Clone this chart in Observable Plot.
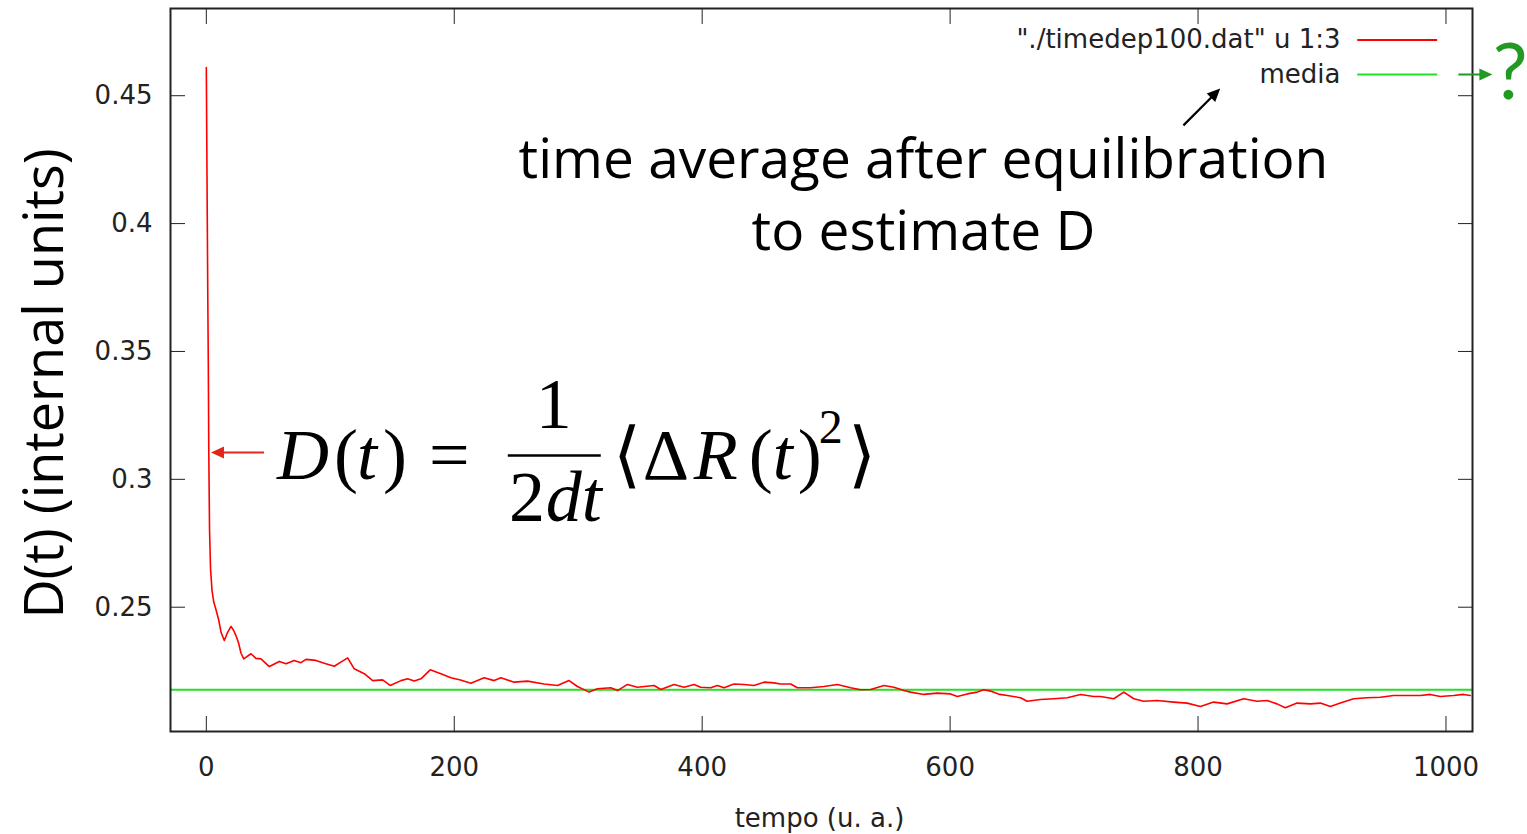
<!DOCTYPE html>
<html><head><meta charset="utf-8">
<script src="https://cdn.jsdelivr.net/npm/d3@7"></script>
<script src="https://cdn.jsdelivr.net/npm/@observablehq/plot@0.6"></script>
<style>html,body{margin:0;padding:0;background:#fff;overflow:hidden}</style>
</head><body><div id="chart"></div>
<script>
// ---- data ----
const timeValues = [
  0, 0.4, 0.8, 1.2, 1.6, 2.0, 2.6, 3.4, 4.6, 6,
  7.8, 10, 12, 14.5, 17, 19.9, 22, 23.9, 26, 28,
  30.2, 36, 40, 44.1, 50.8, 58.9, 64.3, 70.9, 76.3, 80.4,
  88.4, 95.1, 103.2, 108.5, 114, 119.3, 127.4, 134.2, 142.2, 148.3,
  157, 162.4, 167.7, 173.1, 180.6, 189.2, 197.3, 205, 213.4, 224.1,
  232.2, 237.6, 248.3, 259.1, 272.5, 283.3, 292.6, 299.4, 308.8, 315.5,
  326.3, 331.7, 339.7, 347.8, 361.2, 366.6, 377.3, 385.4, 393.4, 398.8,
  406.9, 412.3, 417.6, 425.7, 433.7, 441.8, 449.9, 457.9, 463.3, 471.4,
  476.8, 487.5, 498.2, 509, 519.8, 527.8, 535.9, 546.6, 554.7, 562.7,
  568.1, 578.8, 589.7, 600.4, 605.8, 613.8, 621.9, 627.2, 632.6, 640,
  646.1, 656.8, 662.2, 672.9, 683.6, 694.5, 705.2, 715.9, 721.3, 732,
  740.1, 748.2, 756.2, 767, 780.4, 791.2, 801.9, 812.6, 823.4, 836.8,
  847.6, 855.7, 863.7, 870.4, 879.9, 890.6, 898.7, 906.7, 914.8, 925.5,
  936.3, 947.1, 957.8, 968.6, 979.3, 987.4, 995.4, 1006.1, 1014.2, 1019.6
];
const diffValues = [
  0.461, 0.430, 0.400, 0.370, 0.345, 0.310, 0.280, 0.265, 0.2565, 0.252,
  0.249, 0.245, 0.240, 0.237, 0.240, 0.2425, 0.241, 0.2389, 0.236, 0.232,
  0.2298, 0.2318, 0.2300, 0.2298, 0.2268, 0.2288, 0.2279, 0.2292, 0.2283, 0.2296,
  0.2292, 0.2281, 0.2269, 0.2285, 0.2302, 0.2259, 0.2240, 0.2213, 0.2216, 0.2194,
  0.2213, 0.2220, 0.2211, 0.2220, 0.2255, 0.2240, 0.2224, 0.2215, 0.2203, 0.2224,
  0.2213, 0.2224, 0.2207, 0.2211, 0.2200, 0.2194, 0.2213, 0.2190, 0.2168, 0.2181,
  0.2185, 0.2174, 0.2198, 0.2187, 0.2194, 0.2178, 0.2198, 0.2187, 0.2198, 0.2187,
  0.2185, 0.2194, 0.2185, 0.2200, 0.2198, 0.2194, 0.2207, 0.2204, 0.2200, 0.2200,
  0.2185, 0.2185, 0.2190, 0.2198, 0.2185, 0.2177, 0.2178, 0.2194, 0.2187, 0.2174,
  0.2168, 0.2159, 0.2164, 0.2161, 0.2151, 0.2161, 0.2168, 0.2177, 0.2172, 0.2159,
  0.2155, 0.2146, 0.2132, 0.2139, 0.2142, 0.2146, 0.2159, 0.2151, 0.2151, 0.2142,
  0.2168, 0.2142, 0.2132, 0.2135, 0.2129, 0.2125, 0.2112, 0.2129, 0.2122, 0.2142,
  0.2132, 0.2135, 0.2122, 0.2107, 0.2125, 0.2122, 0.2125, 0.2112, 0.2125, 0.2142,
  0.2146, 0.2148, 0.2155, 0.2155, 0.2155, 0.2159, 0.2151, 0.2155, 0.2159, 0.2155
];
const mediaValue = 0.2177;
const xTicks = [0, 200, 400, 600, 800, 1000];
const yTicks = [0.25, 0.3, 0.35, 0.4, 0.45];
const yTickLabels = ["0.25", "0.3", "0.35", "0.4", "0.45"];
const legendLabels = ["\"./timedep100.dat\" u 1:3", "media"];
const noteLines = ["time average after equilibration", "to estimate D"];

// ---- annotation layout (data coordinates) ----
const legendRows = [
  {label: legendLabels[0], y: 0.4718, color: "#ff0000"},
  {label: legendLabels[1], y: 0.4583, color: "#22e022"}
];
const notes = [
  {text: noteLines[0], x: 578.5, y: 0.4177},
  {text: noteLines[1], x: 578.5, y: 0.3895}
];
const fBase = 0.3003;
const formulaUpright = [
  {s: "(", x: 102.9, y: fBase}, {s: ")", x: 142.5, y: fBase}, {s: "=", x: 179.6, y: fBase},
  {s: "⟨", x: 327.9, y: fBase}, {s: "Δ", x: 352.1, y: fBase}, {s: "(", x: 437.5, y: fBase},
  {s: ")", x: 477.0, y: fBase}, {s: "⟩", x: 517.5, y: fBase},
  {s: "2", x: 244.1, y: 0.2839}
];
const formulaItalic = [
  {s: "D", x: 57.0, y: fBase}, {s: "t", x: 121.5, y: fBase},
  {s: "R", x: 393.2, y: fBase}, {s: "t", x: 456.9, y: fBase},
  {s: "dt", x: 273.9, y: 0.2839}
];
const arrows = [
  {x: 46.5, y: 0.3105, len: 53, rot: -90, color: "#e3261c"},
  {x: 788.2, y: 0.4384, len: 52, rot: 45, color: "#000000"},
  {x: 1010.0, y: 0.4583, len: 34, rot: 90, color: "#229922"}
];

const series = timeValues.map((t, i) => ({t, D: diffValues[i]}));

const arrowShape = {
  draw(context, l) {
    const h = 13, w = 6, s = 1.1;
    context.moveTo(-s, 0);
    context.lineTo(-s, -(l - h));
    context.lineTo(-w, -(l - h));
    context.lineTo(0, -l);
    context.lineTo(w, -(l - h));
    context.lineTo(s, -(l - h));
    context.lineTo(s, 0);
    context.closePath();
  }
};

const tickFont = "DejaVu Sans";
const noteFont = "Open Sans";
const ink = "#222";
const xDomain = [-28.9, 1021.4];

const chart = Plot.plot({
  width: 1527,
  height: 834,
  marginLeft: 170,
  marginRight: 55,
  marginTop: 8,
  marginBottom: 103,
  style: {background: "#fff", fontFamily: tickFont, color: ink},
  x: {domain: xDomain, label: null},
  y: {domain: [0.2014, 0.4841], label: null},
  marks: [
    Plot.ruleY([mediaValue], {stroke: "#22e022", strokeWidth: 2}),
    Plot.line(series, {x: "t", y: "D", stroke: "#ff0000", strokeWidth: 1.6}),
    Plot.frame({stroke: ink, strokeWidth: 2}),
    Plot.axisY(yTicks, {anchor: "left", tickSize: -15, tickPadding: 33, tickFormat: (d, i) => yTickLabels[i], fontSize: 26, label: null, stroke: ink}),
    Plot.axisY(yTicks, {anchor: "right", tickSize: -15, tickFormat: () => "", label: null, stroke: ink}),
    Plot.axisX(xTicks, {anchor: "bottom", tickSize: -15, tickPadding: 41, tickFormat: d => String(d), fontSize: 26, label: null, stroke: ink}),
    Plot.axisX(xTicks, {anchor: "top", tickSize: -15, tickFormat: () => "", label: null, stroke: ink}),
    // axis titles
    Plot.text(["tempo (u. a.)"], {frameAnchor: "bottom", textAnchor: "middle", dx: -2, dy: 87, fontSize: 26, fill: ink, lineAnchor: "middle"}),
    Plot.text(["D(t) (internal units)"], {frameAnchor: "left", textAnchor: "middle", dx: -125, dy: 13.5, rotate: -90, fontSize: 54, fontFamily: noteFont, fill: "#000", lineAnchor: "middle"}),
    // legend
    Plot.text(legendRows, {x: 914.9, y: "y", text: "label", textAnchor: "end", lineAnchor: "middle", fontSize: 26, fill: ink}),
    Plot.link(legendRows, {x1: 928.4, x2: 992.9, y1: "y", y2: "y", stroke: "color", strokeWidth: 2}),
    // annotation text
    Plot.text(notes, {x: "x", y: "y", text: "text", textAnchor: "middle", lineAnchor: "bottom", fontSize: 55, fontFamily: noteFont, fill: "#000"}),
    Plot.text(["?"], {x: 1051.8, y: 0.4585, fontSize: 78, fontFamily: "Lato", fill: "#229922", lineAnchor: "middle"}),
    // arrows
    ...arrows.map(a => Plot.vector([a], {x: "x", y: "y", length: a.len, rotate: a.rot, anchor: "start", shape: arrowShape, fill: a.color, stroke: "none"})),
    // formula
    Plot.text(formulaUpright, {x: "x", y: "y", text: "s", textAnchor: "start", lineAnchor: "bottom", fontSize: 72, fontFamily: "Liberation Serif", fill: "#000"}),
    Plot.text(formulaItalic, {x: "x", y: "y", text: "s", textAnchor: "start", lineAnchor: "bottom", fontSize: 72, fontStyle: "italic", fontFamily: "Liberation Serif", fill: "#000"}),
    Plot.text(["1"], {x: 280.3, y: 0.3199, textAnchor: "middle", lineAnchor: "bottom", fontSize: 72, fontFamily: "Liberation Serif", fill: "#000"}),
    Plot.text(["2"], {x: 494.0, y: 0.3144, textAnchor: "start", lineAnchor: "bottom", fontSize: 48, fontFamily: "Liberation Serif", fill: "#000"}),
    Plot.link([0], {x1: 243.2, x2: 318.2, y1: 0.3093, y2: 0.3093, stroke: "#000", strokeWidth: 2.5})
  ]
});
document.getElementById("chart").appendChild(chart);
</script>
</body></html>
